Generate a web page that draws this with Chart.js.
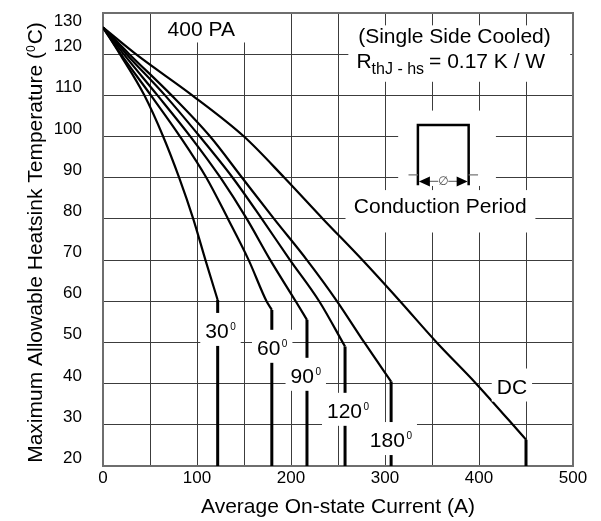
<!DOCTYPE html>
<html>
<head>
<meta charset="utf-8">
<title>Maximum Allowable Heatsink Temperature</title>
<script src="https://cdn.jsdelivr.net/npm/chart.js@4.4.1/dist/chart.umd.min.js"></script>
<style>
  html, body { margin: 0; padding: 0; background: #fff; }
  #wrap { width: 601px; height: 521px; }
</style>
</head>
<body>
<div id="wrap"><canvas id="derating" width="601" height="521"></canvas></div>
<script>
// axis ticks
const xTickLabels = [0, 100, 200, 300, 400, 500];
const yTickLabels = [20, 30, 40, 50, 60, 70, 80, 90, 100, 110, 120, 130];

// derating curves: average current (A) -> max heatsink temperature (degC)
const amps30 = [0, 18, 44, 64, 81, 96, 109, 122];
const temp30 = [126.5, 120, 110, 100, 90, 80, 70, 60.3];
const amps60 = [0, 19, 51, 82, 110, 133, 155, 174, 179.6];
const temp60 = [126.5, 120, 110, 100, 90, 80, 70, 60, 57.9];
const amps90 = [0, 22, 58, 93, 125, 153, 178, 205, 217];
const temp90 = [126.5, 120, 110, 100, 90, 80, 70, 60, 55.5];
const amps120 = [0, 25, 66, 103, 138, 169, 199, 230, 257.5];
const temp120 = [126.5, 120, 110, 100, 90, 80, 70, 60, 49];
const amps180 = [0, 28, 73, 114, 148, 182, 217, 249, 278, 306.5];
const temp180 = [126.5, 120, 110, 100, 90, 80, 70, 60, 50, 40.5];
const ampsDC = [0, 35, 95, 150, 193, 234, 276, 316, 355, 397, 450];
const tempDC = [126.5, 120, 110, 100, 90, 80, 70, 60, 50, 40, 26.4];

// curve tags (conduction angle) and where they sit
const tagNames = ['30', '60', '90', '120', '180', 'DC'];
const tagAmps = [125, 180, 215.7, 260.7, 306.3, 435];
const tagTemps = [51.1, 47, 40.2, 31.7, 24.6, 37.6];

const FONT = '"Liberation Sans", Arial, Helvetica, sans-serif';
const Y_FLOOR = 20;

const curves = [
    [amps30, temp30], [amps60, temp60], [amps90, temp90],
    [amps120, temp120], [amps180, temp180], [ampsDC, tempDC]
];

const datasets = [];
curves.forEach(([a, t]) => {
    datasets.push({
        data: a.map((x, i) => ({ x, y: t[i] })),
        borderColor: '#000',
        borderWidth: 2.2,
        pointRadius: 0,
        cubicInterpolationMode: 'monotone',
        fill: false
    });
    // current limit: vertical drop to the bottom of the chart
    const n = a.length - 1;
    datasets.push({
        data: [{ x: a[n], y: t[n] }, { x: a[n], y: Y_FLOOR }],
        borderColor: '#000',
        borderWidth: 3,
        pointRadius: 0,
        fill: false
    });
});

function whiteBox(ctx, x0, y0, x1, y1) {
    ctx.fillStyle = '#fff';
    ctx.fillRect(x0, y0, x1 - x0, y1 - y0);
}

// text with a small raised "0" (degree mark as printed on the sheet)
function supText(ctx, main, size, supSize, x, y, align) {
    ctx.font = size + 'px ' + FONT;
    const w1 = ctx.measureText(main).width;
    ctx.font = supSize + 'px ' + FONT;
    const w2 = ctx.measureText('0').width;
    const total = w1 + 1.5 + w2;
    let left = x;
    if (align === 'center') left = x - total / 2;
    ctx.textAlign = 'left';
    ctx.textBaseline = 'alphabetic';
    ctx.font = size + 'px ' + FONT;
    ctx.fillText(main, left, y);
    ctx.font = supSize + 'px ' + FONT;
    ctx.fillText('0', left + w1 + 1.5, y - size * 0.72 + supSize * 0.72);
    return { left, right: left + total };
}

const sheetText = {
    id: 'sheetText',
    beforeDatasetsDraw(chart) {
        const { ctx, chartArea: ca } = chart;
        const xs = chart.scales.x, ys = chart.scales.y;
        const px = v => xs.getPixelForValue(v);
        const py = v => ys.getPixelForValue(v);
        ctx.save();
        // frame
        ctx.strokeStyle = '#6e6e6e';
        ctx.lineWidth = 2;
        ctx.strokeRect(ca.left, ca.top, ca.right - ca.left, ca.bottom - ca.top);
        // blank areas behind notes
        whiteBox(ctx, px(55), ca.top + 1, px(157), py(124.3) + 6);
        whiteBox(ctx, px(261), py(127), px(497), py(113.3));
        whiteBox(ctx, px(314), py(106.3), px(418), py(88));
        whiteBox(ctx, px(258), py(87), px(460), py(76.7));
        ctx.restore();
    },
    afterDatasetsDraw(chart) {
        const { ctx, chartArea: ca } = chart;
        const xs = chart.scales.x, ys = chart.scales.y;
        const px = v => xs.getPixelForValue(v);
        const py = v => ys.getPixelForValue(v);
        ctx.save();
        ctx.fillStyle = '#000';

        // curve tags
        tagNames.forEach((name, i) => {
            const x = px(tagAmps[i]);
            const y = py(tagTemps[i]);
            ctx.font = '21px ' + FONT;
            let w = ctx.measureText(name).width;
            if (name !== 'DC') {
                ctx.font = '10px ' + FONT;
                w += 1.5 + ctx.measureText('0').width;
            }
            whiteBox(ctx, x - w / 2 - 5, y - 25, x + w / 2 + 5, y + 8);
            ctx.fillStyle = '#000';
            if (name === 'DC') {
                ctx.font = '21px ' + FONT;
                ctx.textAlign = 'center';
                ctx.textBaseline = 'alphabetic';
                ctx.fillText(name, x, y);
            } else {
                supText(ctx, name, 21, 10, x, y, 'center');
            }
        });

        ctx.fillStyle = '#000';
        ctx.textBaseline = 'alphabetic';
        ctx.font = '21px ' + FONT;
        ctx.textAlign = 'center';
        ctx.fillText('400 PA', px(104.5), py(124.3));
        ctx.fillText('(Single Side Cooled)', px(373.9), py(122.6));
        ctx.fillText('Conduction Period', px(358.7), py(81.4));

        // thermal resistance with subscript
        ctx.textAlign = 'left';
        let x = px(269.6);
        ctx.font = '21px ' + FONT;
        ctx.fillText('R', x, py(116.6));
        x += ctx.measureText('R').width;
        ctx.font = '16px ' + FONT;
        ctx.fillText('thJ - hs', x, py(115.2));
        x += ctx.measureText('thJ - hs').width + 5;
        ctx.font = '21px ' + FONT;
        ctx.fillText('= 0.17 K / W', x, py(116.6));

        // conduction period pulse sketch
        const l = px(335), r = px(389), top = py(102.8), base = py(90.7), arr = py(89.1);
        ctx.strokeStyle = '#000';
        ctx.lineWidth = 2.5;
        ctx.beginPath();
        ctx.moveTo(l, py(88.2));
        ctx.lineTo(l, top);
        ctx.lineTo(r, top);
        ctx.lineTo(r, py(88.2));
        ctx.stroke();
        ctx.strokeStyle = '#777';
        ctx.lineWidth = 1.2;
        ctx.beginPath();
        ctx.moveTo(px(325), base); ctx.lineTo(l, base);
        ctx.moveTo(r, base); ctx.lineTo(px(399), base);
        ctx.moveTo(l + 10, arr); ctx.lineTo(r - 10, arr);
        ctx.stroke();
        ctx.fillStyle = '#000';
        ctx.beginPath();
        ctx.moveTo(l + 1, arr); ctx.lineTo(l + 12, arr - 5); ctx.lineTo(l + 12, arr + 5); ctx.closePath();
        ctx.moveTo(r - 1, arr); ctx.lineTo(r - 12, arr - 5); ctx.lineTo(r - 12, arr + 5); ctx.closePath();
        ctx.fill();
        whiteBox(ctx, (l + r) / 2 - 5, arr - 6, (l + r) / 2 + 5, arr + 6);
        ctx.fillStyle = '#555';
        ctx.font = '12px "DejaVu Sans", sans-serif';
        ctx.textAlign = 'center';
        ctx.textBaseline = 'middle';
        ctx.fillText('\u2205', (l + r) / 2, arr);

        // y tick labels sit just above their grid lines
        ctx.fillStyle = '#000';
        ctx.font = '17px ' + FONT;
        ctx.textAlign = 'right';
        ctx.textBaseline = 'alphabetic';
        yTickLabels.forEach(v => {
            ctx.fillText(String(v), 82, Math.max(py(v) - 3, 26));
        });
        // x tick labels
        ctx.textAlign = 'center';
        xTickLabels.forEach(v => {
            ctx.fillText(String(v), px(v), 483);
        });

        // axis titles
        ctx.font = '21px ' + FONT;
        ctx.fillText('Average On-state Current (A)', (ca.left + ca.right) / 2, 513);

        ctx.save();
        ctx.translate(42, (ca.top + ca.bottom) / 2 + 3);
        ctx.rotate(-Math.PI / 2);
        const part1 = 'Maximum Allowable Heatsink Temperature (';
        const part2 = 'C)';
        ctx.font = '21px ' + FONT;
        const w1 = ctx.measureText(part1).width;
        const w3 = ctx.measureText(part2).width;
        ctx.font = '12px ' + FONT;
        const w2 = ctx.measureText('0').width + 1;
        let sx = -(w1 + w2 + w3) / 2;
        ctx.textAlign = 'left';
        ctx.font = '21px ' + FONT;
        ctx.fillText(part1, sx, 0);
        sx += w1;
        ctx.font = '12px ' + FONT;
        ctx.fillText('0', sx, -7);
        sx += w2;
        ctx.font = '21px ' + FONT;
        ctx.fillText(part2, sx, 0);
        ctx.restore();

        ctx.restore();
    }
};

new Chart(document.getElementById('derating'), {
    type: 'line',
    data: { datasets },
    options: {
        responsive: false,
        animation: false,
        layout: { padding: { left: 103, top: 13, right: 28, bottom: 55 } },
        plugins: {
            legend: { display: false },
            tooltip: { enabled: false }
        },
        scales: {
            x: {
                type: 'linear',
                min: 0,
                max: 500,
                ticks: { stepSize: 50, display: false },
                grid: { color: '#3c3c3c', lineWidth: 1, drawTicks: false },
                border: { display: false }
            },
            y: {
                type: 'linear',
                min: 20,
                max: 130,
                ticks: { stepSize: 10, display: false },
                grid: { color: '#3c3c3c', lineWidth: 1, drawTicks: false },
                border: { display: false }
            }
        }
    },
    plugins: [sheetText]
});
</script>
</body>
</html>
